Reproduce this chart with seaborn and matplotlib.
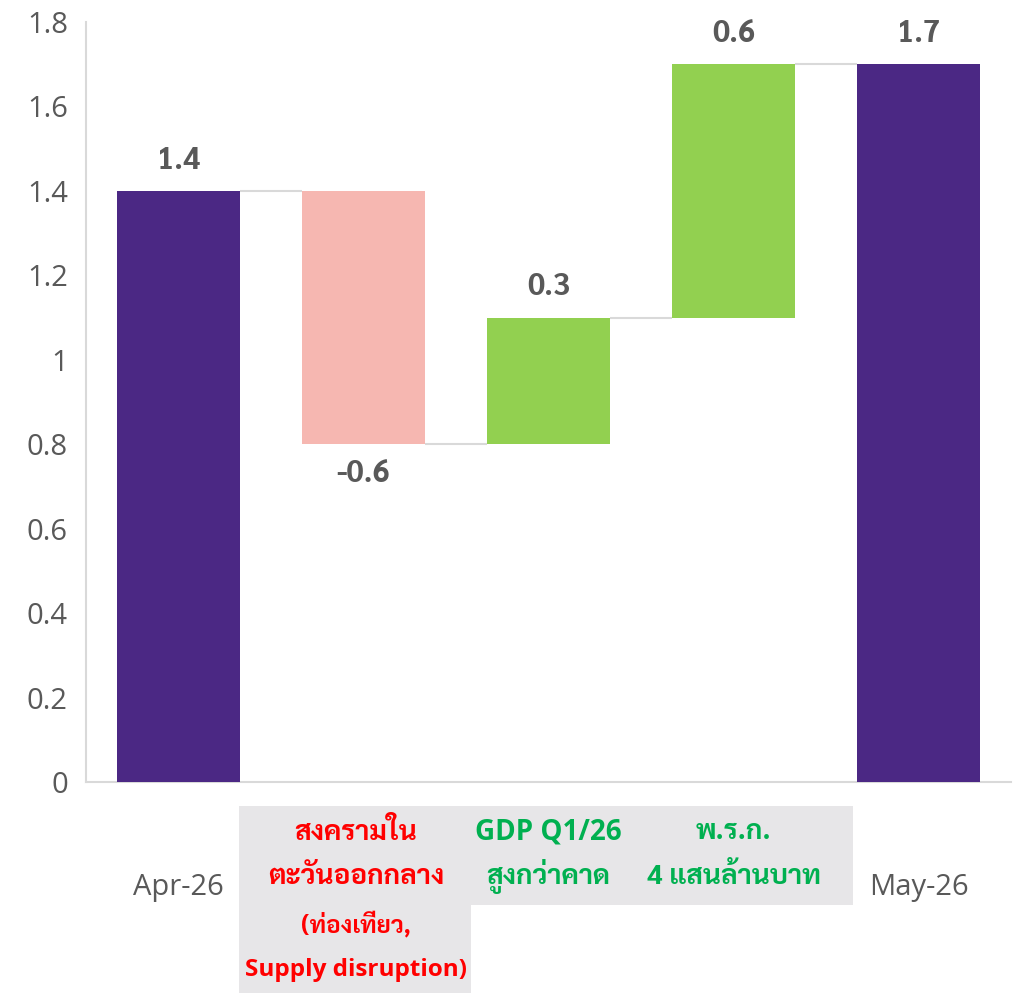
import matplotlib
matplotlib.use("Agg")
import matplotlib.pyplot as plt
from matplotlib import font_manager as fm
from matplotlib.patches import Rectangle
import matplotlib.transforms as mtransforms
import seaborn as sns
import pandas as pd

# ---------------- data ----------------
categories = ["Apr-26", "war", "gdp", "loan", "May-26"]
changes = [1.4, -0.6, 0.3, 0.6, 1.7]
is_total = [True, False, False, False, True]
value_labels = ["1.4", "-0.6", "0.3", "0.6", "1.7"]
label_main = [
    None,
    ["สงครามใน", "ตะวันออกกลาง"],
    ["GDP Q1/26", "สูงกว่าคาด"],
    ["พ.ร.ก.", "4 แสนล้านบาท"],
    None,
]
label_sub = [None, ["(ท่องเที่ยว,", "Supply disruption)"], None, None, None]
label_colors = ["#595959", "#FF0000", "#00B050", "#00B050", "#595959"]
y_ticks = [0, 0.2, 0.4, 0.6, 0.8, 1.0, 1.2, 1.4, 1.6, 1.8]

# ---------------- styles ----------------
PURPLE = "#4B2884"
PINK = "#F6B7B1"
GREEN = "#92D050"
GRAY_TXT = "#595959"
LINE = "#D9D9D9"
BOX = "#E7E6E8"

sns.set_theme(style="white")
bold_fams = {}
for f in fm.fontManager.ttflist:
    w = f.weight if isinstance(f.weight, int) else (700 if str(f.weight) == "bold" else 400)
    bold_fams[f.name] = max(bold_fams.get(f.name, 0), w)
thai_pref = ["Noto Sans Thai Looped", "Noto Sans Thai", "Sarabun", "IBM Plex Sans Thai Looped", "IBM Plex Sans Thai"]
thai_font = next((f for f in thai_pref if bold_fams.get(f, 0) >= 700), "IBM Plex Sans Thai Looped")
latin_font = next((f for f in ["Open Sans", "Noto Sans", "DejaVu Sans"] if f in bold_fams), "DejaVu Sans")
latin_bold = next((f for f in ["Noto Sans", "Open Sans", "DejaVu Sans"] if bold_fams.get(f, 0) >= 700), "DejaVu Sans")
plt.rcParams["font.family"] = [thai_font, latin_font, "DejaVu Sans"]

# waterfall computation
bases, heights = [], []
running = 0.0
for ch, tot in zip(changes, is_total):
    if tot:
        bases.append(0.0)
        heights.append(ch)
        running = ch
    else:
        new = running + ch
        bases.append(min(running, new))
        heights.append(abs(ch))
        running = new
tops = [b + h for b, h in zip(bases, heights)]
colors = [PURPLE if t else (GREEN if c > 0 else PINK) for c, t in zip(changes, is_total)]

df = pd.DataFrame({"cat": categories, "top": tops})

fig = plt.figure(figsize=(10.13, 9.93), dpi=100)
ax = fig.add_axes([86 / 1013, 1 - 782 / 993, 925 / 1013, 760 / 993])

sns.barplot(data=df, x="cat", y="top", hue="cat", palette=colors, legend=False,
            width=0.665, ax=ax, saturation=1)

# make bars float
for p, b, h in zip(ax.patches, bases, heights):
    p.set_y(b)
    p.set_height(h)
    p.set_linewidth(0)

ax.set_xlim(-0.5, len(categories) - 0.5)
ax.set_ylim(0, 1.8)
ax.set_yticks(y_ticks)
ax.set_yticklabels([f"{v:g}" for v in y_ticks], fontsize=21, color=GRAY_TXT,
                   family=[latin_font, "DejaVu Sans"])
ax.tick_params(axis="y", length=0, pad=13)
ax.set_xticks([])
ax.set_xlabel("")
ax.set_ylabel("")
for s in ["top", "right"]:
    ax.spines[s].set_visible(False)
for s in ["left", "bottom"]:
    ax.spines[s].set_color(LINE)
    ax.spines[s].set_linewidth(1.5)
ax.spines["bottom"].set_zorder(0.5)

# connectors
hw = 0.665 / 2
running = 0.0
levels = []
for ch, tot in zip(changes, is_total):
    running = ch if tot else running + ch
    levels.append(running)
for i in range(len(categories) - 1):
    ax.plot([i + hw, i + 1 - hw], [levels[i], levels[i]], color=LINE, lw=1.5, zorder=1,
            solid_capstyle="butt")

# value labels
for i, (c, lab) in enumerate(zip(changes, value_labels)):
    if c >= 0:
        ax.annotate(lab, (i, tops[i]), xytext=(0, 11), textcoords="offset points",
                    ha="center", va="bottom", fontsize=22, fontweight="bold", color=GRAY_TXT)
    else:
        ax.annotate(lab, (i, bases[i]), xytext=(0, -10), textcoords="offset points",
                    ha="center", va="top", fontsize=22, fontweight="bold", color=GRAY_TXT)

# category label backgrounds
trans = mtransforms.blended_transform_factory(ax.transData, ax.transAxes)
def px_to_data(px):
    return (px - 86) / 185 - 0.5
def py_to_axes(py):
    return (782 - py) / 760
ax.add_patch(Rectangle((px_to_data(239), py_to_axes(993)), px_to_data(471) - px_to_data(239),
                       py_to_axes(806) - py_to_axes(993), transform=trans, color=BOX,
                       clip_on=False, zorder=0, lw=0))
ax.add_patch(Rectangle((px_to_data(471), py_to_axes(905)), px_to_data(853) - px_to_data(471),
                       py_to_axes(806) - py_to_axes(905), transform=trans, color=BOX,
                       clip_on=False, zorder=0, lw=0))

# category labels
line_y = [832, 877, 925, 970]
for i, cat in enumerate(categories):
    if label_main[i] is None:
        ax.text(i, py_to_axes(887), cat, transform=trans, ha="center", va="center",
                fontsize=21, color=GRAY_TXT, family=[latin_font, "DejaVu Sans"])
        continue
    lines = label_main[i] + (label_sub[i] or [])
    for j, ln in enumerate(lines):
        fs = 20 if j < 2 else 17.5
        fam = [latin_bold, thai_font] if ln.isascii() else [thai_font, latin_bold]
        ax.text(i - 0.04 if label_sub[i] else i, py_to_axes(line_y[j]), ln, transform=trans,
                ha="center", va="center", fontsize=fs, fontweight="bold", color=label_colors[i],
                family=fam)

fig.savefig("out.png", dpi=100)
